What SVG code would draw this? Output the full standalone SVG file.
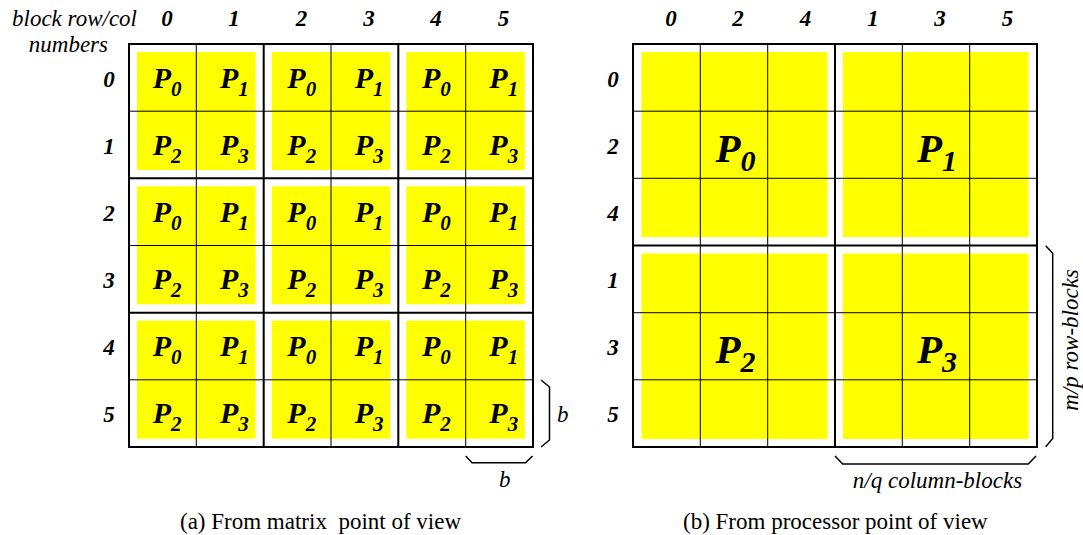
<svg xmlns="http://www.w3.org/2000/svg" width="1083" height="535" viewBox="0 0 1083 535">
<style>
.bg{fill:#ffffff}
.y{fill:#ffff00}
.thin{stroke:#000;stroke-width:1;fill:none}
.thick{stroke:#000;stroke-width:2;fill:none}
.brace{stroke:#000;stroke-width:1.5;fill:none}
.num{font-family:"Liberation Serif","Times New Roman",serif;font-weight:bold;font-style:italic;font-size:23px;text-anchor:middle}
.lab{font-family:"Liberation Serif","Times New Roman",serif;font-style:italic;font-size:23px}
.p{font-family:"Liberation Serif","Times New Roman",serif;font-weight:bold;font-style:italic;font-size:30px}
.ps{font-size:21px}
.bp{font-family:"Liberation Serif","Times New Roman",serif;font-weight:bold;font-style:italic;font-size:41px}
.bps{font-size:30px}
.cap{font-family:"Liberation Serif","Times New Roman",serif;font-size:23px}
</style>
<rect class="bg" x="0" y="0" width="1083" height="535"/>

<g id="grid-a">
  <g id="a-fill">
    <rect class="y" x="137" y="52" width="118.5" height="118"/>
    <rect class="y" x="271.7" y="52" width="118.5" height="118"/>
    <rect class="y" x="406.3" y="52" width="118.5" height="118"/>
    <rect class="y" x="137" y="186.3" width="118.5" height="118"/>
    <rect class="y" x="271.7" y="186.3" width="118.5" height="118"/>
    <rect class="y" x="406.3" y="186.3" width="118.5" height="118"/>
    <rect class="y" x="137" y="320.7" width="118.5" height="118"/>
    <rect class="y" x="271.7" y="320.7" width="118.5" height="118"/>
    <rect class="y" x="406.3" y="320.7" width="118.5" height="118"/>
  </g>
  <g id="a-lines">
    <path class="thin" d="M196.3 44V447M331 44V447M465.7 44V447M129 111.2H533M129 245.5H533M129 379.8H533"/>
    <path class="thick" d="M129 44H533V447H129ZM263.7 44V447M398.3 44V447M129 178.3H533M129 312.7H533"/>
  </g>
  <g id="a-procs">
    <text class="p" x="152.7" y="87.5">P<tspan class="ps" dy="8">0</tspan></text>
    <text class="p" x="220" y="87.5">P<tspan class="ps" dy="8">1</tspan></text>
    <text class="p" x="287.3" y="87.5">P<tspan class="ps" dy="8">0</tspan></text>
    <text class="p" x="354.7" y="87.5">P<tspan class="ps" dy="8">1</tspan></text>
    <text class="p" x="422" y="87.5">P<tspan class="ps" dy="8">0</tspan></text>
    <text class="p" x="489.3" y="87.5">P<tspan class="ps" dy="8">1</tspan></text>

    <text class="p" x="152.7" y="154.7">P<tspan class="ps" dy="8">2</tspan></text>
    <text class="p" x="220" y="154.7">P<tspan class="ps" dy="8">3</tspan></text>
    <text class="p" x="287.3" y="154.7">P<tspan class="ps" dy="8">2</tspan></text>
    <text class="p" x="354.7" y="154.7">P<tspan class="ps" dy="8">3</tspan></text>
    <text class="p" x="422" y="154.7">P<tspan class="ps" dy="8">2</tspan></text>
    <text class="p" x="489.3" y="154.7">P<tspan class="ps" dy="8">3</tspan></text>

    <text class="p" x="152.7" y="221.8">P<tspan class="ps" dy="8">0</tspan></text>
    <text class="p" x="220" y="221.8">P<tspan class="ps" dy="8">1</tspan></text>
    <text class="p" x="287.3" y="221.8">P<tspan class="ps" dy="8">0</tspan></text>
    <text class="p" x="354.7" y="221.8">P<tspan class="ps" dy="8">1</tspan></text>
    <text class="p" x="422" y="221.8">P<tspan class="ps" dy="8">0</tspan></text>
    <text class="p" x="489.3" y="221.8">P<tspan class="ps" dy="8">1</tspan></text>

    <text class="p" x="152.7" y="289">P<tspan class="ps" dy="8">2</tspan></text>
    <text class="p" x="220" y="289">P<tspan class="ps" dy="8">3</tspan></text>
    <text class="p" x="287.3" y="289">P<tspan class="ps" dy="8">2</tspan></text>
    <text class="p" x="354.7" y="289">P<tspan class="ps" dy="8">3</tspan></text>
    <text class="p" x="422" y="289">P<tspan class="ps" dy="8">2</tspan></text>
    <text class="p" x="489.3" y="289">P<tspan class="ps" dy="8">3</tspan></text>

    <text class="p" x="152.7" y="356.1">P<tspan class="ps" dy="8">0</tspan></text>
    <text class="p" x="220" y="356.1">P<tspan class="ps" dy="8">1</tspan></text>
    <text class="p" x="287.3" y="356.1">P<tspan class="ps" dy="8">0</tspan></text>
    <text class="p" x="354.7" y="356.1">P<tspan class="ps" dy="8">1</tspan></text>
    <text class="p" x="422" y="356.1">P<tspan class="ps" dy="8">0</tspan></text>
    <text class="p" x="489.3" y="356.1">P<tspan class="ps" dy="8">1</tspan></text>

    <text class="p" x="152.7" y="423.3">P<tspan class="ps" dy="8">2</tspan></text>
    <text class="p" x="220" y="423.3">P<tspan class="ps" dy="8">3</tspan></text>
    <text class="p" x="287.3" y="423.3">P<tspan class="ps" dy="8">2</tspan></text>
    <text class="p" x="354.7" y="423.3">P<tspan class="ps" dy="8">3</tspan></text>
    <text class="p" x="422" y="423.3">P<tspan class="ps" dy="8">2</tspan></text>
    <text class="p" x="489.3" y="423.3">P<tspan class="ps" dy="8">3</tspan></text>
  </g>
  <g id="a-labels">
    <text class="lab" x="12" y="26">block row/col</text>
    <text class="lab" x="108" y="52" text-anchor="end">numbers</text>
    <text class="num" x="167" y="26">0</text>
    <text class="num" x="234" y="26">1</text>
    <text class="num" x="301.5" y="26">2</text>
    <text class="num" x="369" y="26">3</text>
    <text class="num" x="436" y="26">4</text>
    <text class="num" x="503.5" y="26">5</text>
    <text class="num" x="109" y="86.5">0</text>
    <text class="num" x="109" y="153.7">1</text>
    <text class="num" x="109" y="220.8">2</text>
    <text class="num" x="109" y="288">3</text>
    <text class="num" x="109" y="355.1">4</text>
    <text class="num" x="109" y="422.3">5</text>
  </g>
  <g id="a-braces">
    <polyline class="brace" points="541,380 549.5,387 549.5,440 541,447"/>
    <polyline class="brace" points="465.7,456 472,462.7 525.5,462.7 532.5,456"/>
    <text class="lab" x="557" y="422">b</text>
    <text class="lab" x="499" y="487">b</text>
  </g>
  <text id="caption-a" class="cap" x="180" y="529" xml:space="preserve">(a) From matrix  point of view</text>
</g>

<g id="grid-b">
  <g id="b-fill">
    <rect class="y" x="641.5" y="52" width="186" height="185"/>
    <rect class="y" x="843" y="52" width="185.5" height="185"/>
    <rect class="y" x="641.5" y="253.5" width="186" height="185.5"/>
    <rect class="y" x="843" y="253.5" width="185.5" height="185.5"/>
  </g>
  <g id="b-lines">
    <path class="thin" d="M700.3 44V447M767.7 44V447M902.3 44V447M969.7 44V447M633 111.2H1037M633 178.3H1037M633 312.7H1037M633 379.8H1037"/>
    <path class="thick" d="M633 44H1037V447H633ZM835 44V447M633 245.5H1037"/>
  </g>
  <g id="b-procs">
    <text class="bp" x="715.5" y="161.5">P<tspan class="bps" dy="9">0</tspan></text>
    <text class="bp" x="917" y="161.5">P<tspan class="bps" dy="9">1</tspan></text>
    <text class="bp" x="715.5" y="362.5">P<tspan class="bps" dy="9">2</tspan></text>
    <text class="bp" x="917" y="362.5">P<tspan class="bps" dy="9">3</tspan></text>
  </g>
  <g id="b-labels">
    <text class="num" x="671" y="26">0</text>
    <text class="num" x="738" y="26">2</text>
    <text class="num" x="805.5" y="26">4</text>
    <text class="num" x="873" y="26">1</text>
    <text class="num" x="940" y="26">3</text>
    <text class="num" x="1007.5" y="26">5</text>
    <text class="num" x="613" y="86.5">0</text>
    <text class="num" x="613" y="153.7">2</text>
    <text class="num" x="613" y="220.8">4</text>
    <text class="num" x="613" y="288">1</text>
    <text class="num" x="613" y="355.1">3</text>
    <text class="num" x="613" y="422.3">5</text>
  </g>
  <g id="b-braces">
    <polyline class="brace" points="1045.7,245.7 1052.7,253.3 1052.7,438.5 1045.7,446.7"/>
    <polyline class="brace" points="835,456 842.7,464 1028.3,464 1036,456"/>
    <text class="lab" x="937.5" y="487.5" text-anchor="middle">n/q column-blocks</text>
    <text class="lab" transform="translate(1078,340) rotate(-90)" text-anchor="middle">m/p row-blocks</text>
  </g>
  <text id="caption-b" class="cap" x="683" y="529">(b) From processor point of view</text>
</g>
</svg>
